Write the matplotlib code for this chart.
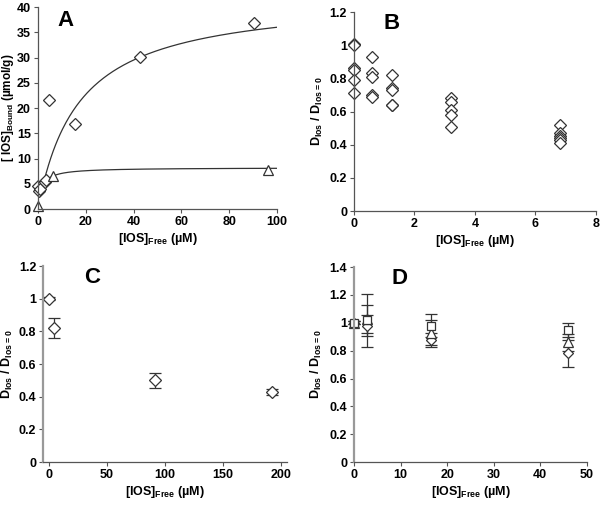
import numpy as np
import matplotlib.pyplot as plt

plt.rcParams['font.family'] = ['Liberation Sans', 'DejaVu Sans']
plt.rcParams['font.weight'] = 'bold'
plt.rcParams['mathtext.default'] = 'regular'

# panel A: binding data
a_dia_x = [0.2, 0.6, 1.0, 3.0, 3.6, 4.5, 15.5, 42.5, 90.5]
a_dia_y = [4.6, 3.6, 4.0, 5.4, 5.7, 21.6, 16.8, 30.1, 36.8]
a_tri_x = [0.2, 6.5, 96.0]
a_tri_y = [0.6, 6.6, 7.8]
# fitted curves (Bmax, Kd)
fit_dia = (42.2, 17.2)
fit_tri = (8.2, 1.6)

# panel B
b_x = [0, 0, 0, 0, 0, 0,
       0.6, 0.6, 0.6, 0.6, 0.6,
       1.25, 1.25, 1.25, 1.25, 1.25,
       3.2, 3.2, 3.2, 3.2, 3.2,
       6.8, 6.8, 6.8, 6.8, 6.8, 6.8]
b_y = [1.01, 1.0, 0.86, 0.85, 0.79, 0.71,
       0.93, 0.83, 0.81, 0.70, 0.69,
       0.82, 0.74, 0.73, 0.64, 0.64,
       0.68, 0.66, 0.61, 0.58, 0.51,
       0.52, 0.47, 0.45, 0.44, 0.43, 0.41]

# panel C
c_x = [0, 4, 91, 192]
c_y = [1.0, 0.82, 0.50, 0.43]
c_err = [0.01, 0.063, 0.045, 0.02]

# panel D
d_x = [0, 2.7, 16.5, 46]
d_sq = [1.0, 1.02, 0.98, 0.95]
d_sq_err = [0.01, 0.19, 0.08, 0.05]
d_tri = [1.0, 1.03, 0.93, 0.86]
d_tri_err = [0.01, 0.10, 0.09, 0.06]
d_dia = [1.0, 0.98, 0.88, 0.78]
d_dia_err = [0.01, 0.075, 0.05, 0.10]

fig = plt.figure(figsize=(6, 5.05), dpi=100)

def style(ax, gray_left=False):
    for s in ['top', 'right']:
        ax.spines[s].set_visible(False)
    for s in ['left', 'bottom']:
        ax.spines[s].set_color('#555555')
        ax.spines[s].set_linewidth(0.9)
    if gray_left:
        ax.spines['left'].set_color('#999999')
        ax.spines['left'].set_linewidth(1.6)
    ax.tick_params(direction='out', length=3, width=0.8, color='#555555',
                   labelsize=9, pad=2)
    for t in ax.get_xticklabels() + ax.get_yticklabels():
        t.set_fontweight('bold')

mk = dict(mfc='white', mec='#333333', mew=0.9, ls='none')
eb = dict(capsize=4, ecolor='#333333', elinewidth=0.9, capthick=0.9)
ylab = 'D$_{Ios}$ / D$_{Ios=0}$'
xlab = '[IOS]$_{Free}$ (µM)'
lab = dict(fontsize=9, fontweight='bold')
let = dict(fontsize=16, fontweight='bold', va='top')
ratio_ticks = [0, 0.2, 0.4, 0.6, 0.8, 1.0, 1.2, 1.4]
ratio_labels = ['0', '0.2', '0.4', '0.6', '0.8', '1', '1.2', '1.4']

# A
ax = fig.add_axes([0.063, 0.586, 0.399, 0.4])
xs = np.linspace(2.5, 100, 200)
ax.plot(xs, fit_dia[0] * xs / (fit_dia[1] + xs), color='#333333', lw=0.9)
xs2 = np.linspace(3, 100, 200)
ax.plot(xs2, fit_tri[0] * xs2 / (fit_tri[1] + xs2), color='#333333', lw=0.9)
ax.plot(a_dia_x, a_dia_y, marker='D', ms=6, clip_on=False, **mk)
ax.plot(a_tri_x, a_tri_y, marker='^', ms=7.5, clip_on=False, **mk)
ax.set_xlim(0, 100)
ax.set_ylim(0, 40)
ax.set_xticks(range(0, 101, 20))
ax.set_yticks(range(0, 41, 5))
ax.set_xlabel(xlab, labelpad=2, **lab)
ax.set_ylabel('[ IOS]$_{Bound}$ (µmol/g)', fontsize=8.5, fontweight='bold')
ax.yaxis.set_label_coords(-0.09, 0.5)
ax.text(0.08, 0.985, 'A', transform=ax.transAxes, **let)
style(ax)

# B
ax = fig.add_axes([0.59, 0.582, 0.403, 0.394])
ax.plot(b_x, b_y, marker='D', ms=6.3, clip_on=False, **mk)
ax.set_xlim(0, 8)
ax.set_ylim(0, 1.2)
ax.set_yticks(ratio_ticks[:7])
ax.set_yticklabels(ratio_labels[:7])
ax.set_xlabel(xlab, labelpad=2, **lab)
ax.set_ylabel(ylab, **lab)
ax.yaxis.set_label_coords(-0.12, 0.5)
ax.text(0.12, 0.995, 'B', transform=ax.transAxes, **let)
style(ax)

# C
ax = fig.add_axes([0.072, 0.085, 0.406, 0.388])
ax.errorbar(c_x, c_y, yerr=c_err, marker='D', ms=6, **eb, **mk)
ax.set_xlim(-5, 205)
ax.set_ylim(0, 1.2)
ax.set_xticks(range(0, 201, 50))
ax.set_yticks(ratio_ticks[:7])
ax.set_yticklabels(ratio_labels[:7])
ax.set_xlabel(xlab, labelpad=2, **lab)
ax.set_ylabel(ylab, **lab)
ax.yaxis.set_label_coords(-0.115, 0.5)
ax.text(0.17, 0.995, 'C', transform=ax.transAxes, **let)
style(ax, gray_left=True)

# D
ax = fig.add_axes([0.59, 0.085, 0.388, 0.386])
for yv, ye, m, s in [(d_dia, d_dia_err, 'D', 5.5), (d_tri, d_tri_err, '^', 7),
                     (d_sq, d_sq_err, 's', 5.5)]:
    c = ax.errorbar(d_x, yv, yerr=ye, marker=m, ms=s, **eb, **mk)
    for art in c.get_children():
        art.set_clip_on(False)
ax.set_xlim(0, 50)
ax.set_ylim(0, 1.4)
ax.set_xticks(range(0, 51, 10))
ax.set_yticks(ratio_ticks)
ax.set_yticklabels(ratio_labels)
ax.set_xlabel(xlab, labelpad=2, **lab)
ax.set_ylabel(ylab, **lab)
ax.yaxis.set_label_coords(-0.13, 0.5)
ax.text(0.16, 0.995, 'D', transform=ax.transAxes, **let)
style(ax, gray_left=True)

fig.savefig('out.png', dpi=100)
